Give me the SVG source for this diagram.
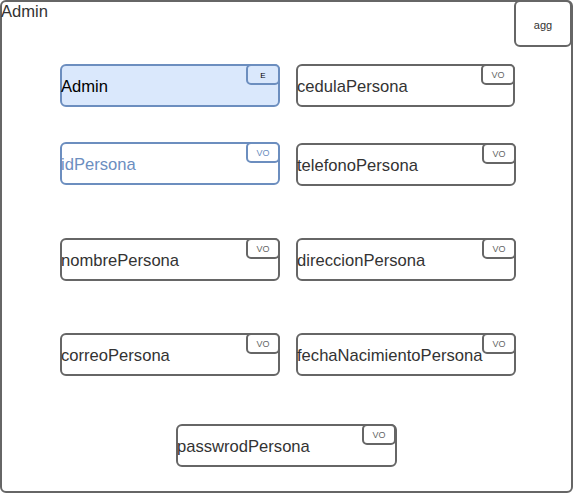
<svg xmlns="http://www.w3.org/2000/svg" width="573" height="493" viewBox="0 0 573 493">
<style>
.box{fill:#fff;stroke:#666;stroke-width:2}
.ent{fill:#dae8fc;stroke:#6c8ebf;stroke-width:2}
.idb{fill:#fff;stroke:#6c8ebf;stroke-width:2}
.lbl{font-family:"Liberation Sans",Arial,sans-serif;font-size:16.6px;fill:#333}
.tag{font-family:"Liberation Sans",Arial,sans-serif;font-size:9px;fill:#666;text-anchor:middle}
</style>
<g id="container">
<rect class="box" x="1" y="1" width="571" height="491" rx="5"/>
<text class="lbl" x="1" y="17">Admin</text>
</g>
<g id="agg">
<rect class="box" x="515" y="1" width="56" height="45" rx="5"/>
<text x="543" y="29" style="font-family:'Liberation Sans',Arial,sans-serif;font-size:11px;fill:#333;text-anchor:middle">agg</text>
</g>
<g id="admin">
<rect class="ent" x="61" y="65" width="218" height="41" rx="5"/>
<rect class="ent" x="247" y="65" width="32" height="19" rx="4"/>
<text class="lbl" x="61" y="92" style="fill:#000">Admin</text>
<text class="tag" x="263" y="78" style="fill:#000;font-size:8px">E</text>
</g>
<g id="idPersona">
<rect class="idb" x="61" y="143" width="218" height="41" rx="5"/>
<rect class="idb" x="247" y="143" width="32" height="19" rx="4"/>
<text class="lbl" x="61" y="170" style="fill:#6c8ebf">idPersona</text>
<text class="tag" x="263" y="156" style="fill:#6c8ebf">VO</text>
</g>
<g id="cedulaPersona">
<rect class="box" x="297" y="65" width="217" height="41" rx="5"/>
<rect class="box" x="482" y="65" width="32" height="19" rx="4"/>
<text class="lbl" x="297" y="92">cedulaPersona</text>
<text class="tag" x="498" y="78">VO</text>
</g>
<g id="telefonoPersona">
<rect class="box" x="297" y="144" width="218" height="41" rx="5"/>
<rect class="box" x="483" y="144" width="32" height="19" rx="4"/>
<text class="lbl" x="297" y="171">telefonoPersona</text>
<text class="tag" x="499" y="157">VO</text>
</g>
<g id="nombrePersona">
<rect class="box" x="61" y="239" width="218" height="41" rx="5"/>
<rect class="box" x="247" y="239" width="32" height="19" rx="4"/>
<text class="lbl" x="61" y="266">nombrePersona</text>
<text class="tag" x="263" y="252">VO</text>
</g>
<g id="direccionPersona">
<rect class="box" x="297" y="239" width="218" height="41" rx="5"/>
<rect class="box" x="483" y="239" width="32" height="19" rx="4"/>
<text class="lbl" x="297" y="266">direccionPersona</text>
<text class="tag" x="499" y="252">VO</text>
</g>
<g id="correoPersona">
<rect class="box" x="61" y="334" width="218" height="41" rx="5"/>
<rect class="box" x="247" y="334" width="32" height="19" rx="4"/>
<text class="lbl" x="61" y="361">correoPersona</text>
<text class="tag" x="263" y="347">VO</text>
</g>
<g id="fechaNacimientoPersona">
<rect class="box" x="297" y="334" width="218" height="41" rx="5"/>
<rect class="box" x="483" y="334" width="32" height="19" rx="4"/>
<text class="lbl" x="297" y="361">fechaNacimientoPersona</text>
<text class="tag" x="499" y="347">VO</text>
</g>
<g id="passwrodPersona">
<rect class="box" x="177" y="425" width="219" height="41" rx="5"/>
<rect class="box" x="363" y="425" width="32" height="19" rx="4"/>
<text class="lbl" x="177" y="452">passwrodPersona</text>
<text class="tag" x="379" y="438">VO</text>
</g>
<g id="connectors"/>
</svg>
